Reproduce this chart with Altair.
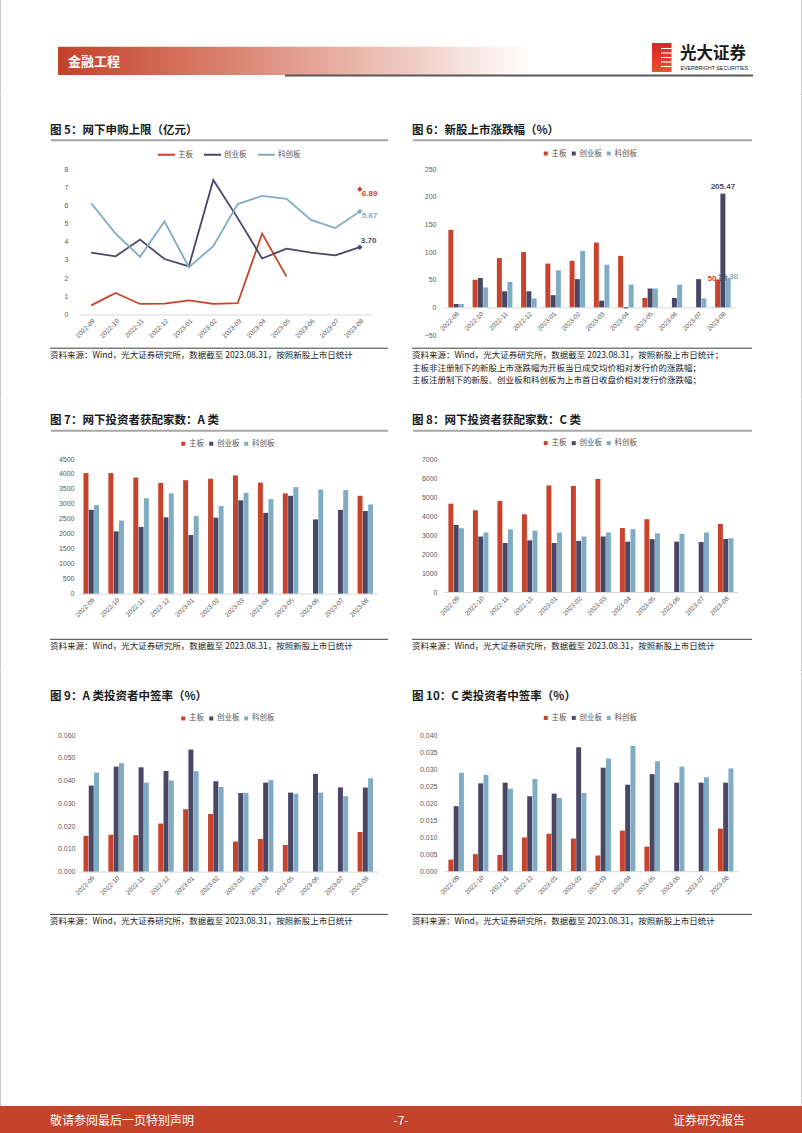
import altair as alt
import pandas as pd

CJK = "Noto Sans CJK SC"
LAT = "Liberation Sans"

months = ["2022-09", "2022-10", "2022-11", "2022-12", "2023-01", "2023-02",
          "2023-03", "2023-04", "2023-05", "2023-06", "2023-07", "2023-08"]
series = ["主板", "创业板", "科创板"]
colors = ["#C8432B", "#484866", "#7FACC4"]

# 图5 网下申购上限（亿元）
f5_main = [0.50, 1.18, 0.58, 0.60, 0.78, 0.58, 0.62, 4.45, 2.08, None, None, 6.89]
f5_gem = [3.40, 3.20, 4.12, 3.05, 2.65, 7.40, 5.30, 3.08, 3.62, 3.40, 3.25, 3.70]
f5_star = [6.12, 4.45, 3.17, 5.12, 2.60, 3.76, 6.07, 6.52, 6.36, 5.20, 4.75, 5.67]
f5_ticks = [0, 1, 2, 3, 4, 5, 6, 7, 8]

# 图6 新股上市涨跌幅（%）
f6_main = [140, 50, 89, 100, 79, 84, 117, 93, 17, None, None, 50.27]
f6_gem = [6, 53, 29, 29, 22, 51, 12, -2, 34, 17, 51, 205.47]
f6_star = [6, 36, 46, 16, 67, 102, 77, 41, 34, 41, 16, 53.30]
f6_ticks = [-50, 0, 50, 100, 150, 200, 250]

# 图7 网下投资者获配家数：A 类
f7_main = [4030, 4030, 3880, 3700, 3790, 3840, 3950, 3710, 3350, None, None, 3270]
f7_gem = [2800, 2080, 2230, 2550, 1960, 2540, 3120, 2700, 3270, 2480, 2800, 2760]
f7_star = [2960, 2440, 3190, 3350, 2590, 2930, 3370, 3160, 3560, 3480, 3460, 2980]
f7_ticks = [0, 500, 1000, 1500, 2000, 2500, 3000, 3500, 4000, 4500]

# 图8 网下投资者获配家数：C 类
f8_main = [4650, 4300, 4790, 4090, 5610, 5580, 5950, 3370, 3830, None, None, 3580]
f8_gem = [3530, 2920, 2580, 2720, 2580, 2690, 2920, 2650, 2780, 2650, 2630, 2790]
f8_star = [3360, 3130, 3300, 3230, 3130, 2920, 3130, 3310, 3090, 3060, 3130, 2830]
f8_ticks = [0, 1000, 2000, 3000, 4000, 5000, 6000, 7000]

# 图9 A 类投资者中签率（%）
f9_main = [0.0157, 0.0162, 0.0160, 0.0211, 0.0274, 0.0253, 0.0132, 0.0143, 0.0117, None, None, 0.0174]
f9_gem = [0.0378, 0.0461, 0.0458, 0.0442, 0.0536, 0.0397, 0.0345, 0.0391, 0.0347, 0.0429, 0.0370, 0.0369]
f9_star = [0.0435, 0.0476, 0.0391, 0.0400, 0.0441, 0.0372, 0.0345, 0.0402, 0.0342, 0.0347, 0.0331, 0.0410]
f9_ticks = [0.0, 0.01, 0.02, 0.03, 0.04, 0.05, 0.06]

# 图10 C 类投资者中签率（%）
f10_main = [0.0034, 0.0050, 0.0048, 0.0099, 0.0110, 0.0096, 0.0046, 0.0119, 0.0072, None, None, 0.0125]
f10_gem = [0.0191, 0.0258, 0.0260, 0.0220, 0.0228, 0.0364, 0.0304, 0.0254, 0.0285, 0.0260, 0.0260, 0.0260]
f10_star = [0.0289, 0.0283, 0.0242, 0.0271, 0.0215, 0.0230, 0.0331, 0.0368, 0.0323, 0.0307, 0.0276, 0.0302]
f10_ticks = [0.0, 0.005, 0.01, 0.015, 0.02, 0.025, 0.03, 0.035, 0.04]

titles = ["图 5：网下申购上限（亿元）", "图 6：新股上市涨跌幅（%）",
          "图 7：网下投资者获配家数：A 类", "图 8：网下投资者获配家数：C 类",
          "图 9：A 类投资者中签率（%）", "图 10：C 类投资者中签率（%）"]
source = "资料来源：Wind，光大证券研究所，数据截至 2023.08.31，按照新股上市日统计"
notes6 = [source + "；",
          "主板非注册制下的新股上市涨跌幅为开板当日成交均价相对发行价的涨跌幅；",
          "主板注册制下的新股、创业板和科创板为上市首日收盘价相对发行价涨跌幅；"]


# ---------------- data helpers ----------------
def long_df(arrs):
    rows = []
    for s, c, arr in zip(series, colors, arrs):
        for m, v in zip(months, arr):
            if v is not None:
                rows.append({"month": m, "series": s, "value": v, "col": c})
    return pd.DataFrame(rows)


def seg_df(arrs):
    rows = []
    for s, c, arr in zip(series, colors, arrs):
        seg = 0
        for m, v in zip(months, arr):
            if v is None:
                seg += 1
                continue
            rows.append({"month": m, "series": s, "value": v, "seg": f"{s}-{seg}"})
    return pd.DataFrame(rows)


def end_df(arrs):
    return pd.DataFrame([{"month": months[-1], "series": s, "value": arr[-1],
                          "col": c, "label": f"{arr[-1]:.2f}"}
                         for s, c, arr in zip(series, colors, arrs)])


# ---------------- decoration helpers (page coords -> panel coords) ----------------
ONE = pd.DataFrame({"k": [0]})


def txt(s, px, py, o, size, color="#1A1A1A", weight="normal", align="left", font=CJK):
    ox, oy = o
    return alt.Chart(pd.DataFrame({"t": [s]})).mark_text(
        align=align, baseline="middle", fontSize=size, color=color,
        fontWeight=weight, font=font
    ).encode(x=alt.value(px - ox), y=alt.value(py - oy), text="t:N")


def hline(x1, x2, py, o, color, width):
    ox, oy = o
    return alt.Chart(ONE).mark_rule(color=color, strokeWidth=width).encode(
        x=alt.value(x1 - ox), x2=alt.value(x2 - ox), y=alt.value(py - oy))


def box(x1, y1, x2, y2, o, **kw):
    ox, oy = o
    return alt.Chart(ONE).mark_rect(**kw).encode(
        x=alt.value(x1 - ox), x2=alt.value(x2 - ox),
        y=alt.value(y1 - oy), y2=alt.value(y2 - oy))


def border(px, y1, y2, o):
    # thin page-edge line drawn as a stroke-less rect so it does not grow the layout bounds
    return box(px, y1, px + 1, y2, o, color="#C8C8C8", strokeWidth=0)


LEFT_X = 79  # page x of the left plot areas (all rows aligned on it)

ROWS = {
    1: dict(title_y=130.5, under_y=139.5, src_y=347.5, note_y=354.5, band=(95, 398), plot_y=168.3),
    2: dict(title_y=420.0, under_y=429.5, src_y=638.0, note_y=644.5, band=(398, 670), plot_y=457.7),
    3: dict(title_y=694.5, under_y=None, src_y=912.0, note_y=918.5, band=(670, 1095), plot_y=732.6),
}
COLS = {
    0: dict(x0=0, x1=401, title_x=50, line_x1=388, plot_x=LEFT_X, border=0),
    1: dict(x0=401, x1=802, title_x=412, line_x1=752, plot_x=444, border=801),
}


def decorations(row, col, title, notes):
    r, c = ROWS[row], COLS[col]
    o = (c["plot_x"], r["plot_y"])
    y0, y1 = r["band"]
    L = [box(c["x0"], y0, c["x1"], y1, o, opacity=0, strokeWidth=0),
         border(c["border"], y0, y1, o),
         txt(title, c["title_x"], r["title_y"], o, 11.5, "#1A1A1A", "bold")]
    if r["under_y"] is not None:
        L.append(hline(c["title_x"] + 1, c["line_x1"], r["under_y"], o, "#A6A6A6", 2))
    L.append(hline(c["title_x"], c["line_x1"], r["src_y"], o, "#3F3F3F", 1))
    for i, n in enumerate(notes):
        L.append(txt(n, c["title_x"], r["note_y"] + 12.5 * i, o, 8.5, "#1A1A1A"))
    return L


def xaxis(offset=0):
    return alt.Axis(title=None, labelAngle=-45, ticks=False, domainColor="#D9D9D9",
                    domainWidth=1, labelFontSize=6.5, labelColor="#595959", labelFont=LAT,
                    labelPadding=3, offset=offset, grid=False)


def yaxis(ticks, fmt, pad):
    return alt.Axis(title=None, values=ticks, format=fmt, domain=False, ticks=False,
                    grid=False, labelFontSize=7, labelColor="#595959", labelFont=LAT,
                    labelPadding=pad)


def make_legend(lx, ly, kind):
    if kind == "line":
        return alt.Legend(orient="none", legendX=lx, legendY=ly, direction="horizontal",
                          title=None, labelFont=CJK, labelFontSize=7.5, labelColor="#595959",
                          symbolType="stroke", symbolSize=289, symbolStrokeWidth=2,
                          columnPadding=7, labelOffset=2, padding=0)
    return alt.Legend(orient="none", legendX=lx, legendY=ly, direction="horizontal",
                      title=None, labelFont=CJK, labelFontSize=7.5, labelColor="#595959",
                      symbolType="square", symbolSize=16, symbolStrokeWidth=0,
                      columnPadding=3, labelOffset=2, padding=0)


def color_enc(legend):
    return alt.Color("series:N", sort=series, scale=alt.Scale(domain=series, range=colors),
                     legend=legend)


# ---------------- 图5 line panel ----------------
def line_panel():
    w, h = 293, 145.5
    X = alt.X("month:N", sort=months,
              scale=alt.Scale(type="point", domain=months, padding=0.5), axis=xaxis(0))
    Y = alt.Y("value:Q", scale=alt.Scale(domain=[0, 8], nice=False),
              axis=yaxis(f5_ticks, "d", 11))
    arrs = [f5_main, f5_gem, f5_star]
    ends = end_df(arrs)
    layers = decorations(1, 0, titles[0], [source])
    layers.append(alt.Chart(seg_df(arrs)).mark_line(strokeWidth=1.8).encode(
        x=X, y=Y, detail="seg:N", color=color_enc(make_legend(78, -24, "line"))))
    layers.append(alt.Chart(ends).mark_point(shape="diamond", filled=True, size=30, opacity=1)
                  .encode(x=X, y=Y, fill=alt.Fill("col:N", scale=None)))
    layers.append(alt.Chart(ends).transform_filter(alt.datum.series != "创业板")
                  .mark_text(align="left", baseline="middle", dx=2, dy=5, fontSize=8,
                             fontWeight="bold", font=LAT)
                  .encode(x=X, y=Y, text="label:N", fill=alt.Fill("col:N", scale=None)))
    layers.append(alt.Chart(ends).transform_filter(alt.datum.series == "创业板")
                  .mark_text(align="left", baseline="middle", dx=1, dy=-6, fontSize=8,
                             fontWeight="bold", font=LAT)
                  .encode(x=X, y=Y, text="label:N", fill=alt.Fill("col:N", scale=None)))
    return alt.layer(*layers).properties(width=w, height=h)


# ---------------- bar panels ----------------
def bar_panel(row, col, w, h, arrs, domain, ticks, fmt, ypad, title, notes, leg_xy,
              labels=False):
    off = -h * (0 - domain[0]) / (domain[1] - domain[0])
    X = alt.X("month:N", sort=months,
              scale=alt.Scale(domain=months, paddingInner=0.36, paddingOuter=0.18),
              axis=xaxis(off))
    XO = alt.XOffset("series:N", sort=series, scale=alt.Scale(domain=series, paddingInner=0.06))
    Y = alt.Y("value:Q", stack=None, scale=alt.Scale(domain=domain, nice=False),
              axis=yaxis(ticks, fmt, ypad))
    layers = decorations(row, col, title, notes)
    if labels:
        ends = end_df(arrs)
        layers.append(alt.Chart(ends).transform_filter(alt.datum.series != "创业板")
                      .mark_text(baseline="middle", dy=-1, fontSize=8, fontWeight="bold", font=LAT)
                      .encode(x=X, xOffset=XO, y=Y, text="label:N",
                              fill=alt.Fill("col:N", scale=None)))
        layers.append(alt.Chart(ends).transform_filter(alt.datum.series == "创业板")
                      .mark_text(baseline="bottom", dy=-3, fontSize=8, fontWeight="bold", font=LAT)
                      .encode(x=X, xOffset=XO, y=Y, text="label:N",
                              fill=alt.Fill("col:N", scale=None)))
    layers.append(alt.Chart(long_df(arrs)).mark_bar().encode(
        x=X, xOffset=XO, y=Y, color=color_enc(make_legend(leg_xy[0], leg_xy[1], "bar"))))
    return alt.layer(*layers).properties(width=w, height=h)


c5 = line_panel()
c6 = bar_panel(1, 1, 291, 166, [f6_main, f6_gem, f6_star], [-50, 250], f6_ticks, "d", 8,
               titles[1], notes6, (98, -19.6), labels=True)
c7 = bar_panel(2, 0, 299, 134.6, [f7_main, f7_gem, f7_star], [0, 4500], f7_ticks, "d", 5,
               titles[2], [source], (100.5, -19.4))
c8 = bar_panel(2, 1, 294, 133, [f8_main, f8_gem, f8_star], [0, 7000], f8_ticks, "d", 7,
               titles[3], [source], (98, -20))
c9 = bar_panel(3, 0, 299, 136.6, [f9_main, f9_gem, f9_star], [0, 0.06], f9_ticks, ".3f", 4,
               titles[4], [source], (100.5, -20.7))
c10 = bar_panel(3, 1, 294, 136.2, [f10_main, f10_gem, f10_star], [0, 0.04], f10_ticks, ".3f", 7,
                titles[5], [source], (98, -21.2))

# ---------------- header (origin aligned with the left plot areas) ----------------
O0 = (LEFT_X, 0)
bar_grad = alt.Gradient(gradient="linear", x1=0, x2=1, y1=0, y2=0, stops=[
    alt.GradientStop(color="#C4412A", offset=0),
    alt.GradientStop(color="#D9806D", offset=0.35),
    alt.GradientStop(color="#EDC3B9", offset=0.7),
    alt.GradientStop(color="#FFFFFF", offset=1)])
logo_grad = alt.Gradient(gradient="linear", x1=0, x2=0, y1=0, y2=1, stops=[
    alt.GradientStop(color="#D7262B", offset=0),
    alt.GradientStop(color="#E8512F", offset=1)])
header_layers = [
    box(0, 0, 802, 95, O0, opacity=0, strokeWidth=0),
    border(0, 0, 95, O0),
    border(801, 0, 95, O0),
    box(58, 46.7, 530, 75, O0, color=bar_grad),
    hline(285, 753, 75.5, O0, "#595959", 2),
    txt("金融工程", 68, 61.5, O0, 13, "#FFFFFF", "bold"),
    box(652, 43, 671.5, 72, O0, color=logo_grad),
]
for sy in [48.5, 53.0, 57.5, 62.0, 66.5]:
    header_layers.append(hline(661, 672, sy, O0, "#FFFFFF", 1.1))
header_layers += [
    txt("光大证券", 680, 54, O0, 16.5, "#1A1A1A", "bold"),
    txt("EVERBRIGHT SECURITIES", 680.5, 67.5, O0, 5.3, "#1A1A1A", font=LAT),
]
header = alt.layer(*header_layers).properties(width=802 - LEFT_X, height=95)

# ---------------- footer ----------------
O1 = (LEFT_X, 1095)
footer = alt.layer(
    box(0, 1095, 802, 1133, O1, opacity=0, strokeWidth=0),
    border(0, 1095, 1103, O1),
    border(801, 1095, 1103, O1),
    box(0, 1103, 802, 1133, O1, color="#C4432A", strokeWidth=0),
    txt("敬请参阅最后一页特别声明", 50, 1118, O1, 12, "#FFFFFF"),
    txt("-7-", 401, 1118, O1, 12, "#FFFFFF", align="center"),
    txt("证券研究报告", 745, 1118, O1, 12, "#FFFFFF", align="right"),
).properties(width=802 - LEFT_X, height=38)

row1 = alt.hconcat(c5, c6, spacing=0).resolve_scale(color="independent")
row2 = alt.hconcat(c7, c8, spacing=0).resolve_scale(color="independent")
row3 = alt.hconcat(c9, c10, spacing=0).resolve_scale(color="independent")

chart = alt.vconcat(header, row1, row2, row3, footer, spacing=0).resolve_scale(
    color="independent").properties(padding=0).configure_view(stroke=None)

chart.save("out.html", embed_options={"renderer": "svg", "actions": False})
